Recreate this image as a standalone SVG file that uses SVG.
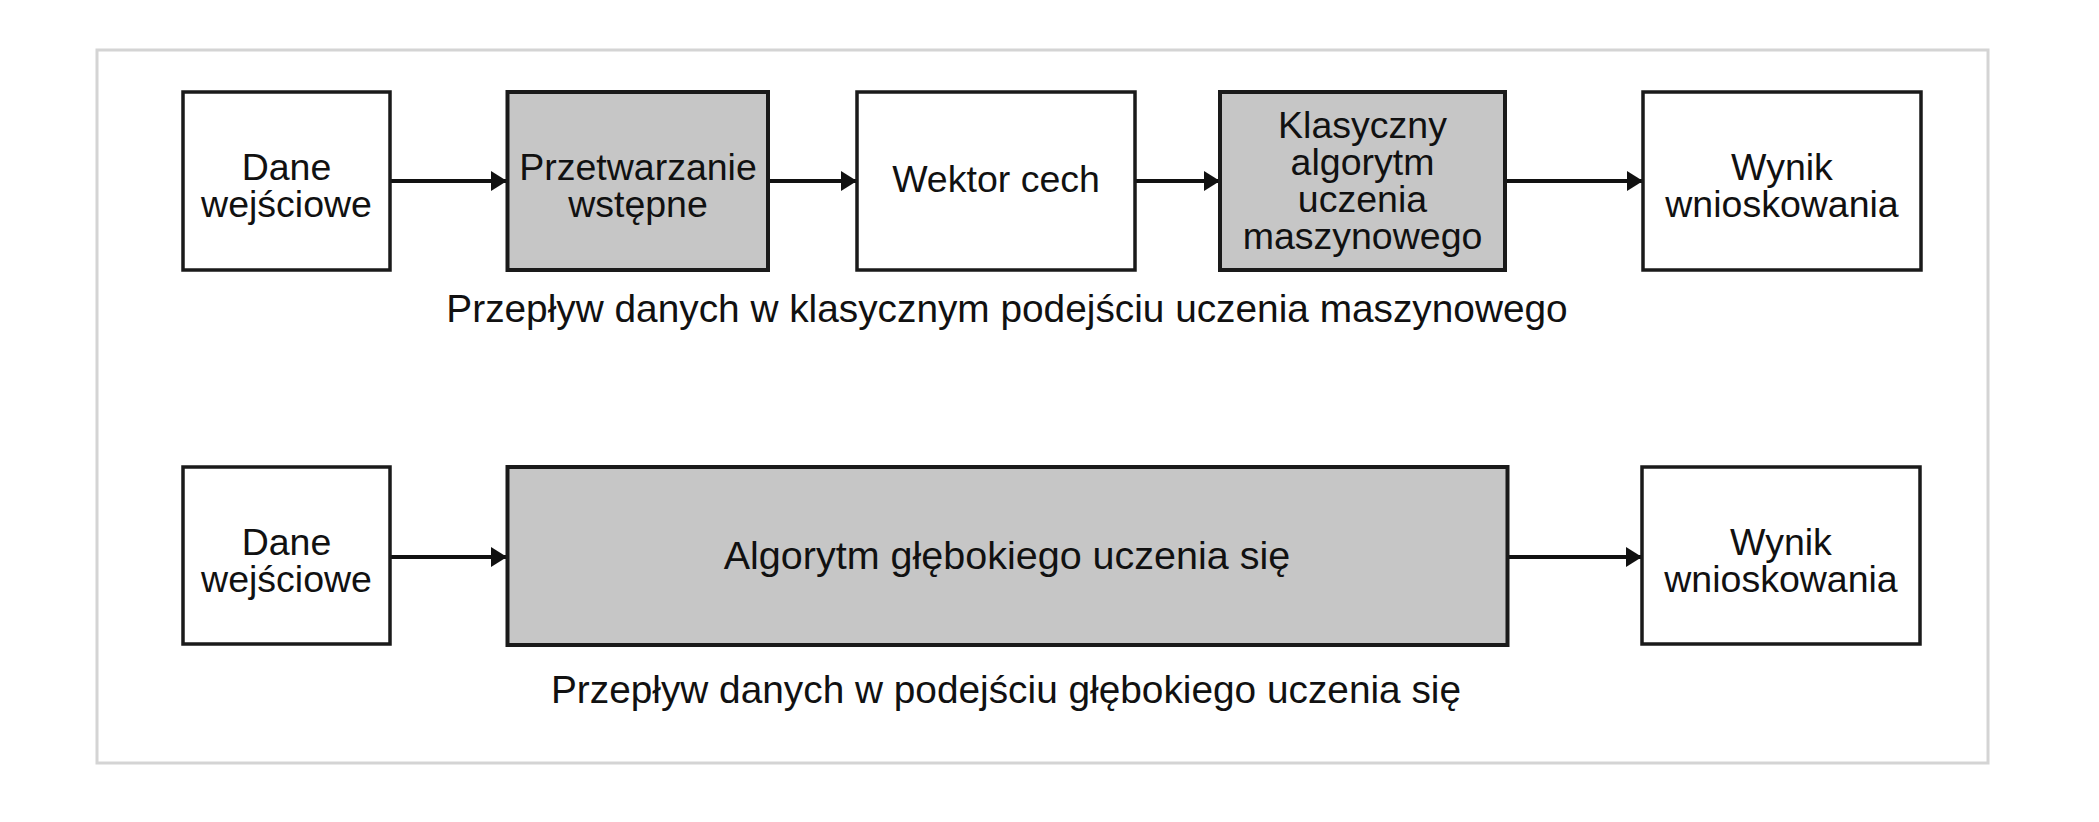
<svg xmlns="http://www.w3.org/2000/svg" width="2099" height="822" viewBox="0 0 2099 822">
<style>
.frame{fill:#ffffff;stroke:#d4d4d4;stroke-width:3}
.box{fill:#ffffff;stroke:#1a1a1a;stroke-width:3.5}
.gbox{fill:#c6c6c6;stroke:#1a1a1a;stroke-width:4}
.t{font-family:"Liberation Sans",Arial,sans-serif;font-size:37.5px;fill:#111111;text-anchor:middle}
.cap{font-size:38.8px}
.big{font-size:39.5px}
.edge{stroke:#111111;stroke-width:4;fill:none;marker-end:url(#arr)}
</style>
<defs>
<marker id="arr" markerUnits="userSpaceOnUse" markerWidth="18" markerHeight="22" refX="16" refY="10" orient="auto">
<path d="M0,0 L16,10 L0,20 Z" fill="#111111"/>
</marker>
</defs>
<rect width="2099" height="822" fill="#ffffff"/>
<rect class="frame" x="97" y="50" width="1891" height="713"/>
<g id="connectors">
<line class="edge" x1="390" y1="181" x2="507" y2="181"/>
<line class="edge" x1="768" y1="181" x2="857" y2="181"/>
<line class="edge" x1="1135" y1="181" x2="1220" y2="181"/>
<line class="edge" x1="1505" y1="181" x2="1643" y2="181"/>
<line class="edge" x1="390" y1="557" x2="507" y2="557"/>
<line class="edge" x1="1507" y1="557" x2="1642" y2="557"/>
</g>
<g id="n1">
<rect class="box" x="183" y="92" width="207" height="178"/>
<text class="t"><tspan x="286.5" y="180">Dane</tspan><tspan x="286.5" y="217">wejściowe</tspan></text>
</g>
<g id="n2">
<rect class="gbox" x="507.5" y="92" width="260.5" height="178"/>
<text class="t"><tspan x="638" y="180">Przetwarzanie</tspan><tspan x="638" y="217">wstępne</tspan></text>
</g>
<g id="n3">
<rect class="box" x="857" y="92" width="278" height="178"/>
<text class="t" x="996" y="192">Wektor cech</text>
</g>
<g id="n4">
<rect class="gbox" x="1220" y="92" width="285" height="178"/>
<text class="t"><tspan x="1362.5" y="138">Klasyczny</tspan><tspan x="1362.5" y="175">algorytm</tspan><tspan x="1362.5" y="212">uczenia</tspan><tspan x="1362.5" y="249">maszynowego</tspan></text>
</g>
<g id="n5">
<rect class="box" x="1643" y="92" width="278" height="178"/>
<text class="t"><tspan x="1782" y="180">Wynik</tspan><tspan x="1782" y="217">wnioskowania</tspan></text>
</g>
<g id="cap1">
<text class="t cap" x="1007" y="322">Przepływ danych w klasycznym podejściu uczenia maszynowego</text>
</g>
<g id="m1">
<rect class="box" x="183" y="467" width="207" height="177"/>
<text class="t"><tspan x="286.5" y="555">Dane</tspan><tspan x="286.5" y="592">wejściowe</tspan></text>
</g>
<g id="m2">
<rect class="gbox" x="507.5" y="467" width="1000" height="178"/>
<text class="t big" x="1007" y="569">Algorytm głębokiego uczenia się</text>
</g>
<g id="m3">
<rect class="box" x="1642" y="467" width="278" height="177"/>
<text class="t"><tspan x="1781" y="555">Wynik</tspan><tspan x="1781" y="592">wnioskowania</tspan></text>
</g>
<g id="cap2">
<text class="t cap" x="1006" y="703">Przepływ danych w podejściu głębokiego uczenia się</text>
</g>
</svg>
